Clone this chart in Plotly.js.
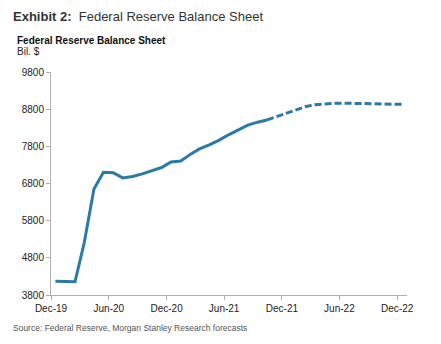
<!DOCTYPE html>
<html>
<head>
<meta charset="utf-8">
<script src="https://cdn.plot.ly/plotly-3.0.1.min.js"></script>
<style>html,body{margin:0;padding:0;background:#fff;}#chart{width:441px;height:344px;}</style>
</head>
<body>
<div id="chart"></div>
<script>
// Actual data (monthly, Bil. $)
const actualMonths = ["2019-12-15","2020-01-15","2020-02-15","2020-03-15","2020-04-15","2020-05-15","2020-06-15","2020-07-15","2020-08-15","2020-09-15","2020-10-15","2020-11-15","2020-12-15","2021-01-15","2021-02-15","2021-03-15","2021-04-15","2021-05-15","2021-06-15","2021-07-15","2021-08-15","2021-09-15","2021-10-15"];
const actualValues = [4170,4160,4155,5200,6650,7100,7090,6950,6990,7060,7140,7230,7380,7405,7590,7730,7840,7960,8110,8240,8370,8450,8510];
// Forecast (Morgan Stanley Research)
const forecastMonths = ["2021-10-15","2021-11-15","2021-12-15","2022-01-15","2022-02-15","2022-03-15","2022-04-15","2022-05-15","2022-06-15","2022-07-15","2022-08-15","2022-09-15","2022-10-15","2022-11-15","2022-12-15"];
const forecastValues = [8510,8600,8690,8790,8870,8920,8950,8960,8960,8955,8950,8945,8940,8935,8930];
// Axis ticks
const xTickVals = ["2019-12-01","2020-06-01","2020-12-01","2021-06-01","2021-12-01","2022-06-01","2022-12-01"];
const xTickText = ["Dec-19","Jun-20","Dec-20","Jun-21","Dec-21","Jun-22","Dec-22"];
const yTickVals = [3800,4800,5800,6800,7800,8800,9800];
const yTickText = ["3800","4800","5800","6800","7800","8800","9800"];

const lineColor = "#2a7aa8";
const font = "Liberation Sans, Arial, sans-serif";

const traces = [
  {x: actualMonths, y: actualValues, type: "scatter", mode: "lines",
   line: {color: lineColor, width: 3}, hoverinfo: "skip"},
  {x: forecastMonths, y: forecastValues, type: "scatter", mode: "lines",
   line: {color: lineColor, width: 3, dash: "7px,3px"}, hoverinfo: "skip"}
];

const layout = {
  width: 441, height: 344,
  margin: {l: 51, r: 34, t: 72, b: 49},
  paper_bgcolor: "#fff", plot_bgcolor: "#fff",
  showlegend: false,
  font: {family: font, size: 10, color: "#222"},
  xaxis: {
    type: "date", range: ["2019-12-01", "2023-01-01"],
    tickvals: xTickVals, ticktext: xTickText,
    showgrid: false, zeroline: false,
    showline: true, linecolor: "#b0b0b0", linewidth: 1,
    ticks: "outside", ticklen: 4, tickcolor: "#b0b0b0",
    tickfont: {family: font, size: 10, color: "#222"}, fixedrange: true
  },
  yaxis: {
    range: [3800, 9800], tickvals: yTickVals, ticktext: yTickText,
    showgrid: false, zeroline: false,
    showline: true, linecolor: "#b0b0b0", linewidth: 1,
    ticks: "outside", ticklen: 4, tickcolor: "#b0b0b0",
    tickfont: {family: font, size: 10, color: "#222"}, fixedrange: true
  },
  annotations: [
    {xref: "paper", yref: "paper", x: -40/356, y: 1 + (72-17)/223, xanchor: "left", yanchor: "middle",
     showarrow: false, align: "left",
     text: "<b>Exhibit 2:</b>  Federal Reserve Balance Sheet",
     font: {family: font, size: 13, color: "#333"}},
    {xref: "paper", yref: "paper", x: -36/356, y: 1 + (72-40)/223, xanchor: "left", yanchor: "middle",
     showarrow: false, align: "left",
     text: "<b>Federal Reserve Balance Sheet</b>",
     font: {family: font, size: 10, color: "#111"}},
    {xref: "paper", yref: "paper", x: -36/356, y: 1 + (72-52)/223, xanchor: "left", yanchor: "middle",
     showarrow: false, align: "left",
     text: "Bil. $",
     font: {family: font, size: 10, color: "#222"}},
    {xref: "paper", yref: "paper", x: -40/356, y: -(328-295)/223, xanchor: "left", yanchor: "middle",
     showarrow: false, align: "left",
     text: "Source: Federal Reserve, Morgan Stanley Research forecasts",
     font: {family: font, size: 8.5, color: "#555"}}
  ]
};

Plotly.newPlot("chart", traces, layout, {displayModeBar: false, staticPlot: true});
</script>
</body>
</html>
